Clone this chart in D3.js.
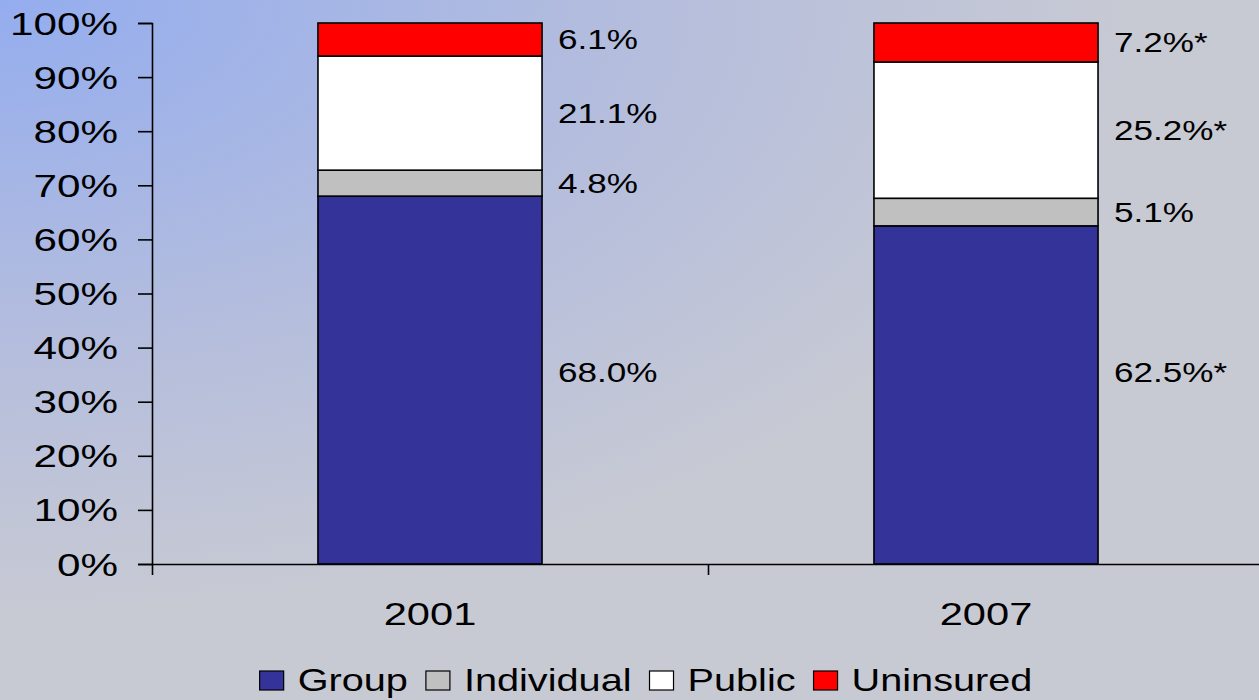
<!DOCTYPE html>
<html>
<head>
<meta charset="utf-8">
<script src="https://cdn.jsdelivr.net/npm/d3@7"></script>
<style>
  html, body { margin: 0; padding: 0; }
  body {
    width: 1259px; height: 700px; overflow: hidden;
    background: radial-gradient(ellipse 1150px 620px at 0 0, #94adef 0%, #b4bddd 55%, #c8cad3 100%);
  }
  svg { display: block; }
  text { font-family: "Liberation Sans", Arial, sans-serif; fill: #000; }
</style>
</head>
<body>
<script>
// chart data
const years = ["2001", "2007"];
const seriesNames = ["Group", "Individual", "Public", "Uninsured"];
const seriesColors = ["#333399", "#c0c0c0", "#ffffff", "#ff0000"];
const groupVals = [68.0, 62.5];
const individualVals = [4.8, 5.1];
const publicVals = [21.1, 25.2];
const uninsuredVals = [6.1, 7.2];
const groupLabels = ["68.0%", "62.5%*"];
const individualLabels = ["4.8%", "5.1%"];
const publicLabels = ["21.1%", "25.2%*"];
const uninsuredLabels = ["6.1%", "7.2%*"];
const yTicks = [0, 10, 20, 30, 40, 50, 60, 70, 80, 90, 100];

const svgWidth = 1259;
const svgHeight = 700;
const plotLeft = 152, plotRight = 1264, plotTop = 23, plotBottom = 564;
const sx = 1.3; // text in the original is stretched sideways

const svg = d3.select("body").append("svg")
    .attr("width", svgWidth)
    .attr("height", svgHeight);

const x = d3.scaleBand().domain(years).range([plotLeft, plotRight]).padding(0);
const y = d3.scaleLinear().domain([0, 100]).range([plotBottom, plotTop]);
const barW = x.bandwidth() * 0.403;

// build stacks
const rows = years.map((yr, i) => ({
    year: yr,
    Group: groupVals[i], Individual: individualVals[i],
    Public: publicVals[i], Uninsured: uninsuredVals[i]
}));
const labelsBySeries = [groupLabels, individualLabels, publicLabels, uninsuredLabels];
const stacked = d3.stack().keys(seriesNames)(rows);

// bars
const layers = svg.selectAll("g.layer")
    .data(stacked)
    .enter()
    .append("g")
    .attr("class", "layer")
    .style("fill", (d, i) => seriesColors[i]);

layers.selectAll("rect")
    .data(d => d)
    .enter()
    .append("rect")
    .attr("x", d => x(d.data.year) + (x.bandwidth() - barW) / 2)
    .attr("y", d => y(d[1]))
    .attr("width", barW)
    .attr("height", d => y(d[0]) - y(d[1]))
    .style("stroke", "#000")
    .style("stroke-width", 1.6);

// value labels, right of each bar
const labelData = [];
stacked.forEach((layer, si) => {
    layer.forEach((d, yi) => {
        labelData.push({ year: d.data.year, mid: (d[0] + d[1]) / 2, text: labelsBySeries[si][yi], si: si });
    });
});
// the bottom row labels sit on one shared line
const groupMid = d3.max(labelData.filter(d => d.si === 0), d => d.mid) + 1.5;
labelData.forEach(d => { if (d.si === 0) d.mid = groupMid; });

svg.selectAll("text.val")
    .data(labelData)
    .enter()
    .append("text")
    .attr("class", "val")
    .attr("transform", d => `translate(${x(d.year) + (x.bandwidth() + barW) / 2 + 16},${y(d.mid)}) scale(${sx},1)`)
    .attr("dy", "0.36em")
    .style("font-size", "27px")
    .text(d => d.text);

// y axis
const yAxis = svg.append("g")
    .attr("transform", `translate(${plotLeft},0)`)
    .call(d3.axisLeft(y).tickValues(yTicks).tickSize(14).tickFormat(""));
yAxis.selectAll("path, line").style("stroke", "#000").style("stroke-width", 1.6);

svg.selectAll("text.ytick")
    .data(yTicks)
    .enter()
    .append("text")
    .attr("class", "ytick")
    .attr("transform", d => `translate(118,${y(d)}) scale(1.32,1)`)
    .attr("dy", "0.36em")
    .attr("text-anchor", "end")
    .style("font-size", "32px")
    .text(d => d + "%");

// x axis, ticks between categories
const xEdge = d3.scaleLinear().domain([0, years.length]).range([plotLeft, plotRight]);
const xAxis = svg.append("g")
    .attr("transform", `translate(0,${plotBottom})`)
    .call(d3.axisBottom(xEdge).tickValues(d3.range(years.length + 1)).tickSize(11).tickSizeOuter(0).tickFormat(""));
xAxis.selectAll("path, line").style("stroke", "#000").style("stroke-width", 1.6);

svg.selectAll("text.year")
    .data(years)
    .enter()
    .append("text")
    .attr("class", "year")
    .attr("transform", d => `translate(${x(d) + x.bandwidth() / 2},613) scale(${sx},1)`)
    .attr("dy", "0.36em")
    .attr("text-anchor", "middle")
    .style("font-size", "32px")
    .text(d => d);

// legend
const legend = svg.append("g");
const sw = 24, sh = 19, textGap = 14, itemGap = 18, legendSx = 1.24;
let cursor = 0;
seriesNames.forEach((name, i) => {
    const g = legend.append("g");
    g.append("rect")
        .attr("x", 0).attr("y", -sh)
        .attr("width", sw).attr("height", sh)
        .style("fill", seriesColors[i])
        .style("stroke", "#000")
        .style("stroke-width", 1.2);
    const t = g.append("text")
        .attr("transform", `translate(${sw + textGap},1) scale(${legendSx},1)`)
        .style("font-size", "32px")
        .text(name);
    const w = sw + textGap + t.node().getComputedTextLength() * legendSx;
    g.attr("transform", `translate(${cursor},0)`);
    cursor += w + itemGap;
});
const legendW = cursor - itemGap;
legend.attr("transform", `translate(${646 - legendW / 2},690)`);
</script>
</body>
</html>
